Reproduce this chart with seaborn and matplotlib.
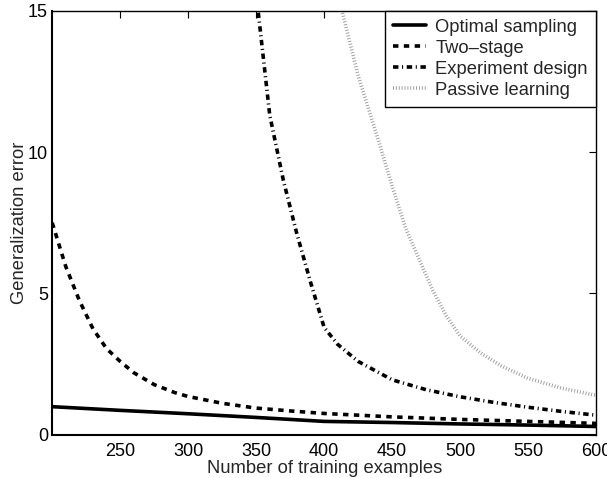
import matplotlib
matplotlib.use("Agg")
import matplotlib.pyplot as plt
import seaborn as sns
import pandas as pd

# ---- data ----
opt_x = [200, 250, 300, 350, 400, 450, 500, 550, 600]
opt_y = [1.0, 0.87, 0.75, 0.62, 0.48, 0.44, 0.39, 0.35, 0.30]

two_x = [200, 210, 220, 230, 240, 250, 260, 275, 290, 300, 325, 350, 375, 400, 450, 500, 550, 600]
two_y = [7.5, 5.95, 4.75, 3.75, 3.05, 2.6, 2.2, 1.78, 1.5, 1.36, 1.12, 0.95, 0.85, 0.76, 0.64, 0.55, 0.48, 0.41]

exp_x = [350, 360, 370, 380, 390, 400, 410, 425, 450, 475, 500, 525, 550, 575, 600]
exp_y = [15.6, 11.3, 9.0, 7.1, 5.4, 3.8, 3.2, 2.6, 1.95, 1.6, 1.35, 1.15, 0.98, 0.83, 0.70]

pas_x = [410, 425, 440, 450, 460, 470, 480, 490, 500, 515, 530, 550, 575, 600]
pas_y = [15.6, 12.7, 10.4, 8.8, 7.3, 6.2, 5.1, 4.2, 3.5, 2.9, 2.45, 2.0, 1.65, 1.4]

labels = ["Optimal sampling", "Two\u2013stage", "Experiment design", "Passive learning"]
x_ticks = [250, 300, 350, 400, 450, 500, 550, 600]
y_ticks = [0, 5, 10, 15]

sns.set_style("white")
plt.rcParams["font.family"] = ["Liberation Sans", "DejaVu Sans"]

fig = plt.figure(figsize=(6.07, 4.78), dpi=100)
ax = fig.add_axes([0.086, 0.090, 0.896, 0.888])

series = [
    (opt_x, opt_y, dict(color="black", lw=2.6, linestyle="-")),
    (two_x, two_y, dict(color="black", lw=2.6, dashes=(1.5, 1.5))),
    (exp_x, exp_y, dict(color="black", lw=2.6, dashes=(1.5, 1.0, 0.3, 1.0))),
    (pas_x, pas_y, dict(color="#9a9a9a", lw=2.6, dashes=(0.25, 0.55))),
]
for (xs, ys, st), lab in zip(series, labels):
    df = pd.DataFrame({"x": xs, "y": ys})
    sns.lineplot(data=df, x="x", y="y", ax=ax, label=lab, **st)

ax.set_xlim(200, 600)
ax.set_ylim(0, 15)
ax.set_xticks(x_ticks)
ax.set_yticks(y_ticks)
ax.set_xticklabels([str(t) for t in x_ticks])
ax.set_yticklabels([str(t) for t in y_ticks])
ax.tick_params(direction="in", length=5, width=0.8, top=True, right=True,
               labelsize=13, colors="black")
ax.tick_params(axis="x", pad=5.5)
ax.tick_params(axis="y", pad=3)
for sp in ax.spines.values():
    sp.set_visible(True)
    sp.set_color("black")
    sp.set_linewidth(1.0)
ax.spines["bottom"].set_linewidth(1.5)
ax.spines["left"].set_linewidth(1.5)

ax.set_xlabel("Number of training examples", fontsize=13.2, labelpad=0.5)
ax.set_ylabel("Generalization error", fontsize=13.2, labelpad=0)

leg = ax.legend(loc="upper right", fontsize=13.2, frameon=True, fancybox=False,
                edgecolor="black", framealpha=1, borderaxespad=0.0,
                handlelength=1.8, handletextpad=0.5, borderpad=0.45, labelspacing=0.22)
leg.get_frame().set_linewidth(1.0)

fig.savefig("out.png", dpi=100)
